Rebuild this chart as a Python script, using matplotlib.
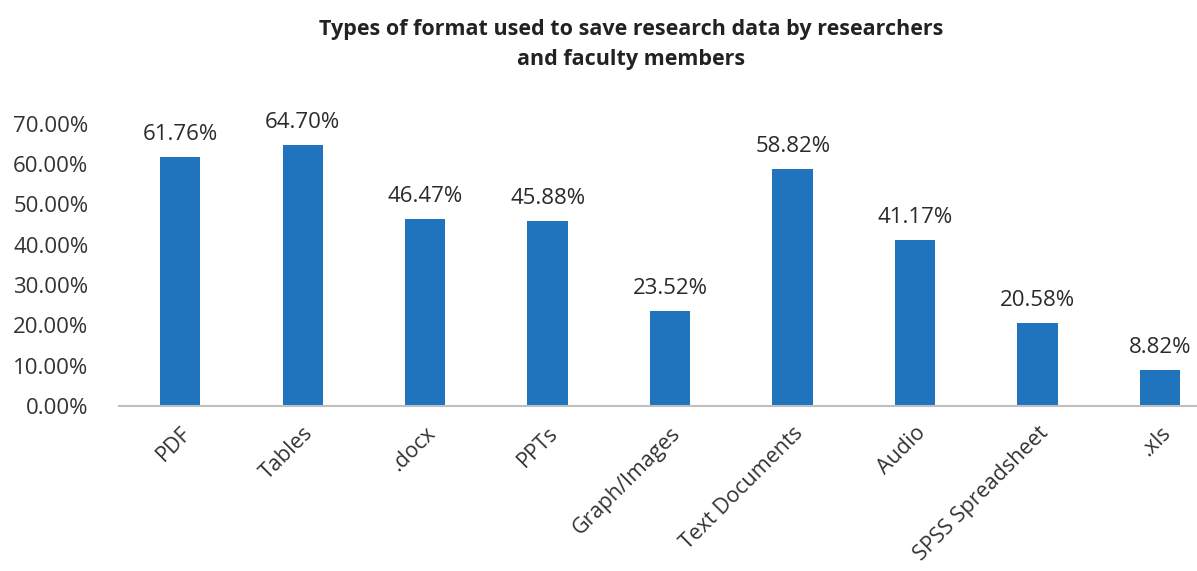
import matplotlib.pyplot as plt
from matplotlib.ticker import FuncFormatter

categories = ['PDF', 'Tables', '.docx', 'PPTs', 'Graph/Images', 'Text Documents',
              'Audio', 'SPSS Spreadsheet', '.xls']
values = [61.76, 64.70, 46.47, 45.88, 23.52, 58.82, 41.17, 20.58, 8.82]
yticks = [0, 10, 20, 30, 40, 50, 60, 70]

plt.rcParams['font.family'] = ['Open Sans', 'DejaVu Sans']

fig = plt.figure(figsize=(11.97, 5.71), dpi=100)
# plot area runs a bit past the right edge, as in the cropped original
ax = fig.add_axes([0.0994, 0.289, 0.921, 0.494])

x = range(len(categories))
bars = ax.bar(x, values, width=0.33, color='#1f74bd')
for b, v in zip(bars, values):
    ax.text(b.get_x() + b.get_width() / 2, v + 3.0, '%.2f%%' % v,
            ha='center', va='bottom', fontsize=16, color='#2a2a2a')

ax.set_xlim(-0.5, len(categories) - 0.5)
ax.set_ylim(0, 70)
ax.set_yticks(yticks)
ax.yaxis.set_major_formatter(FuncFormatter(lambda v, p: '%.2f%%' % v))
ax.set_xticks(list(x))
ax.set_xticklabels(categories, rotation=45, ha='right', rotation_mode='anchor',
                   fontsize=15.5, color='#333333')
ax.tick_params(axis='y', labelsize=16, labelcolor='#333333', length=0, pad=22)
ax.tick_params(axis='x', length=0, pad=12)

for s in ['top', 'right', 'left']:
    ax.spines[s].set_visible(False)
ax.spines['bottom'].set_color('#bfbfbf')
ax.spines['bottom'].set_linewidth(1.5)

fig.text(0.527, 0.922, 'Types of format used to save research data by researchers\nand faculty members',
         ha='center', va='center', fontsize=15.5, fontweight='bold', color='#222222',
         linespacing=1.55)

fig.savefig('out.png', dpi=100)
